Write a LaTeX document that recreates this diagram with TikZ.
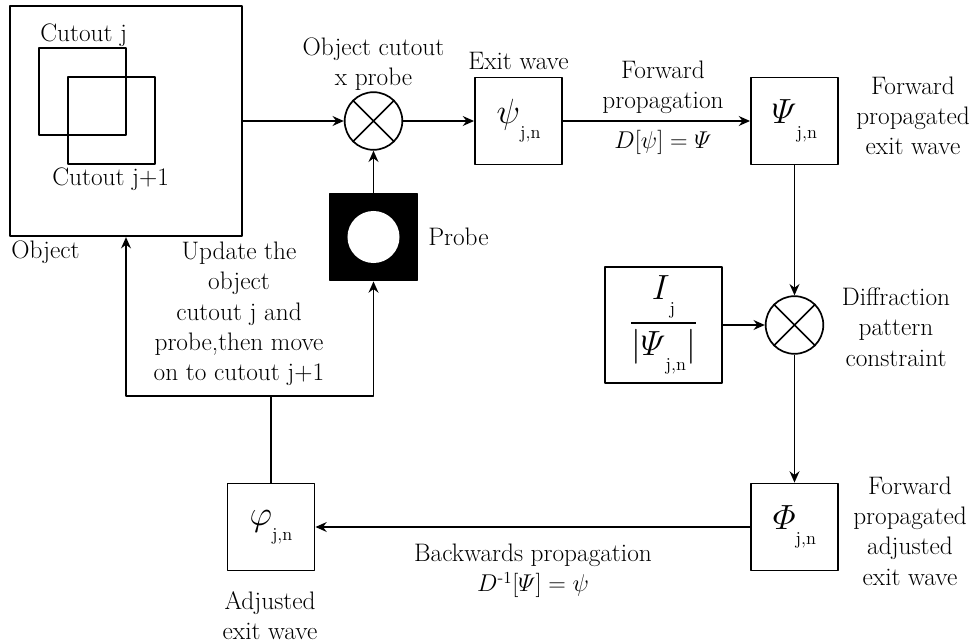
\documentclass[tikz,border=0pt]{standalone}
\usepackage{amsmath}
\usepackage{fontspec}
\usetikzlibrary{arrows.meta}

\newcommand{\lbfont}{\fontsize{18}{21.5}\selectfont}
\newcommand{\bxfont}{\fontsize{25}{28}\selectfont}
\newcommand{\lowsub}[1]{\raisebox{-1ex}{\fontsize{13}{13}\selectfont #1}}

\tikzset{
  blk/.style={draw, line width=1.2pt, minimum width=62pt, minimum height=62pt, inner sep=0pt, font=\bxfont},
  mult/.style={draw, circle, line width=1.2pt, minimum size=41pt, inner sep=0pt},
  lbl/.style={font=\lbfont, align=center, inner sep=0pt},
  flow/.style={line width=1.2pt, -{Stealth[length=8pt,width=7pt]}},
  wire/.style={line width=1.2pt}
}

\begin{document}
\begin{tikzpicture}[x=0.25mm, y=-0.25mm, line join=round]
  \useasboundingbox (0,0) rectangle (978,643);

  % Object with the two cutouts
  \node[blk, minimum width=165pt, minimum height=164pt] (obj) at (126,121) {};
  \node[blk] (cutj) at (82.5,91.5) {};
  \node[blk] (cutjj) at (111.5,120.5) {};
  \node[lbl, anchor=base west] (lcutj) at (40,41) {Cutout j};
  \node[lbl, anchor=base west] (lcutjj) at (52,185) {Cutout j+1};
  \node[lbl, anchor=base west] (lobj) at (11,258) {Object};

  % Multipliers
  \node[mult] (m1) at (373.5,121) {};
  \draw[wire] (m1.45) -- (m1.225) (m1.135) -- (m1.315);
  \node[mult] (m2) at (794.5,325) {};
  \draw[wire] (m2.45) -- (m2.225) (m2.135) -- (m2.315);
  \node[lbl] (lm1) at (373.5,64) {Object cutout\\x probe};
  \node[lbl] (lm2) at (896,327) {Diffraction\\pattern\\constraint};

  % Probe
  \node[blk, fill=black] (probe) at (373.5,237) {};
  \node[circle, fill=white, minimum size=37pt, inner sep=0pt] (hole) at (probe) {};
  \node[lbl, anchor=west] (lprobe) at (428,237) {Probe};

  % Waves
  \node[blk] (psi) at (518.5,121) {$\psi$\lowsub{j,n}};
  \node[blk] (bigpsi) at (794.5,121) {$\varPsi$\lowsub{j,n}};
  \node[blk, minimum width=83pt, minimum height=82.5pt] (frac) at (663.5,325)
    {$\dfrac{I\text{\lowsub{j}}}{|\varPsi\text{\lowsub{j,n}}|}$};
  \node[blk] (bigphi) at (794.5,527) {$\varPhi$\lowsub{j,n}};
  \node[blk] (phi) at (271,527) {$\varphi$\lowsub{j,n}};

  % Labels
  \node[lbl, anchor=base] (lexit) at (518.5,69) {Exit wave};
  \node[lbl] (lfwd) at (663,87) {Forward\\propagation};
  \node[lbl, anchor=base] (ldfwd) at (663,148) {$D[\psi]=\varPsi$};
  \node[lbl] (lbigpsi) at (913,116) {Forward\\propagated\\exit wave};
  \node[lbl] (lbigphi) at (910,531) {Forward\\propagated\\adjusted\\exit wave};
  \node[lbl] (lback) at (533,571) {Backwards propagation\\$D^{\text{-}1}[\varPsi]=\psi$};
  \node[lbl] (lphi) at (270,616) {Adjusted\\exit wave};
  \node[lbl] (lupd) at (239,314) {Update the\\object\\cutout j and\\probe,then move\\on to cutout j+1};

  % Connectors
  \coordinate (jn) at (271,396);
  \draw[flow] (obj.east) -- (m1.west);
  \draw[flow] (m1.east) -- (psi.west);
  \draw[flow] (psi.east) -- (bigpsi.west);
  \draw[flow] (bigpsi.south) -- (m2.north);
  \draw[flow] (frac.east) -- (m2.west);
  \draw[flow] (m2.south) -- (bigphi.north);
  \draw[flow] (bigphi.west) -- (phi.east);
  \draw[wire] (phi.north) -- (jn);
  \draw[flow] (jn) -| (obj.south);
  \draw[flow] (jn) -| (probe.south);
  \draw[flow] (probe.north) -- (m1.south);
\end{tikzpicture}
\end{document}
